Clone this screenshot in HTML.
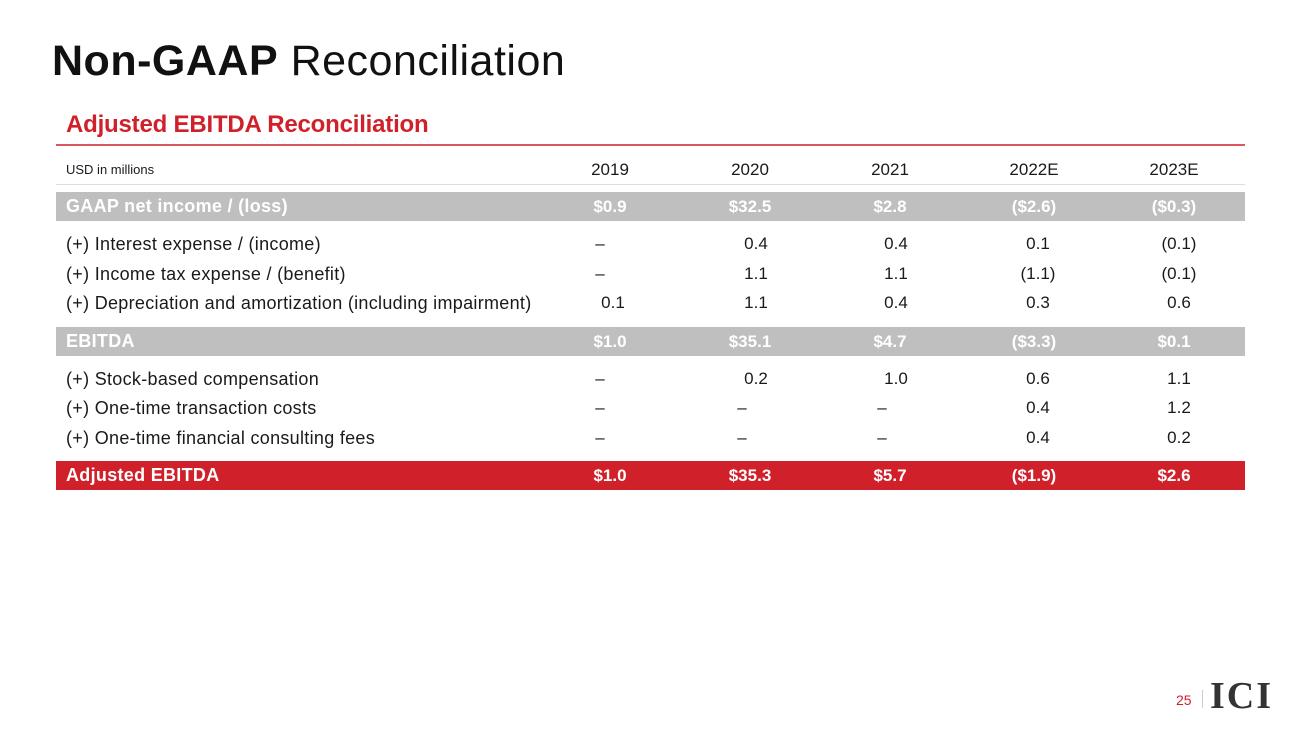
<!DOCTYPE html>
<html><head><style>
body{margin:0;width:1300px;height:731px;background:#fff;font-family:"Liberation Sans",sans-serif;position:relative;overflow:hidden;color:#1a1a1a}
.t{position:absolute;left:52px;top:37px;font-size:43px;color:#111;letter-spacing:0.5px}
.st{position:absolute;left:66px;top:111px;font-size:24px;font-weight:bold;color:#d0202a;letter-spacing:-0.2px}
.rl{position:absolute;left:56px;top:144px;width:1189px;height:2px;background:#d9585f}
.row{position:absolute;left:56px;width:1189px;font-size:17px}
.row span{position:absolute;top:0;transform:translateX(-50%)}
.row .l{left:10px;transform:none;font-size:18px;letter-spacing:0.3px}
.gray{background:#bfbfbf;color:#fff;font-weight:bold}
.red{background:#d0202a;color:#fff;font-weight:bold}
</style></head><body>
<div class="t"><b>Non-GAAP</b> Reconciliation</div>
<div class="st">Adjusted EBITDA Reconciliation</div>
<div class="rl"></div>
<div class="row" style="top:160px;height:24px;border-bottom:1px solid #ddd"><span class="l" style="font-size:13px;top:2px;letter-spacing:0">USD in millions</span><span style="left:554px">2019</span><span style="left:694px">2020</span><span style="left:834px">2021</span><span style="left:978px">2022E</span><span style="left:1118px">2023E</span></div>
<div class="row gray" style="top:192px;height:29px;line-height:29px"><span class="l">GAAP net income / (loss)</span><span style="left:554px">$0.9</span><span style="left:694px">$32.5</span><span style="left:834px">$2.8</span><span style="left:978px">($2.6)</span><span style="left:1118px">($0.3)</span></div>
<div class="row" style="top:234px"><span class="l">(+) Interest expense / (income)</span><span style="left:544px">–</span><span style="left:700px">0.4</span><span style="left:840px">0.4</span><span style="left:982px">0.1</span><span style="left:1123px">(0.1)</span></div>
<div class="row" style="top:264px"><span class="l">(+) Income tax expense / (benefit)</span><span style="left:544px">–</span><span style="left:700px">1.1</span><span style="left:840px">1.1</span><span style="left:982px">(1.1)</span><span style="left:1123px">(0.1)</span></div>
<div class="row" style="top:293px"><span class="l">(+) Depreciation and amortization (including impairment)</span><span style="left:557px">0.1</span><span style="left:700px">1.1</span><span style="left:840px">0.4</span><span style="left:982px">0.3</span><span style="left:1123px">0.6</span></div>
<div class="row gray" style="top:327px;height:29px;line-height:29px"><span class="l">EBITDA</span><span style="left:554px">$1.0</span><span style="left:694px">$35.1</span><span style="left:834px">$4.7</span><span style="left:978px">($3.3)</span><span style="left:1118px">$0.1</span></div>
<div class="row" style="top:369px"><span class="l">(+) Stock-based compensation</span><span style="left:544px">–</span><span style="left:700px">0.2</span><span style="left:840px">1.0</span><span style="left:982px">0.6</span><span style="left:1123px">1.1</span></div>
<div class="row" style="top:398px"><span class="l">(+) One-time transaction costs</span><span style="left:544px">–</span><span style="left:686px">–</span><span style="left:826px">–</span><span style="left:982px">0.4</span><span style="left:1123px">1.2</span></div>
<div class="row" style="top:428px"><span class="l">(+) One-time financial consulting fees</span><span style="left:544px">–</span><span style="left:686px">–</span><span style="left:826px">–</span><span style="left:982px">0.4</span><span style="left:1123px">0.2</span></div>
<div class="row red" style="top:461px;height:29px;line-height:29px"><span class="l">Adjusted EBITDA</span><span style="left:554px">$1.0</span><span style="left:694px">$35.3</span><span style="left:834px">$5.7</span><span style="left:978px">($1.9)</span><span style="left:1118px">$2.6</span></div>
<div style="position:absolute;left:1176px;top:692px;font-size:14px;color:#d0202a">25</div>
<div style="position:absolute;left:1202px;top:690px;width:1px;height:18px;background:#ccc"></div>
<div style="position:absolute;left:1210px;top:674px;font-family:'Liberation Serif',serif;font-weight:bold;font-size:38px;color:#333;letter-spacing:2px">ICI</div>
</body></html>
